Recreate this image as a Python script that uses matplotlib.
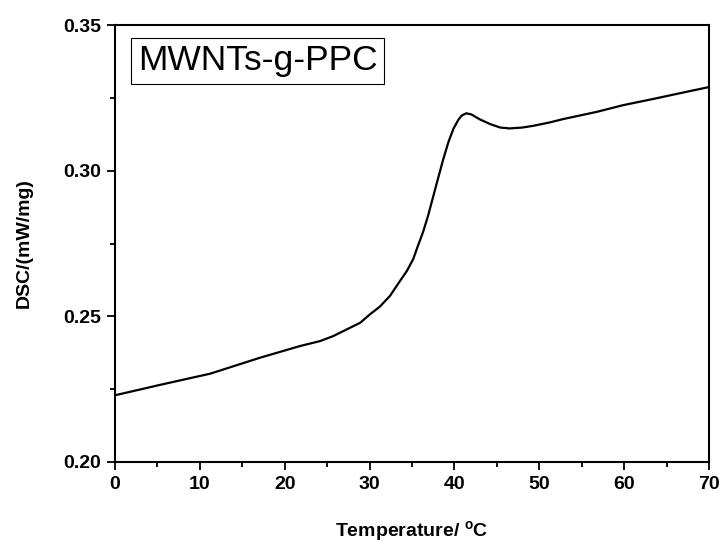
import matplotlib
matplotlib.use("Agg")
import matplotlib.pyplot as plt
from matplotlib.ticker import MultipleLocator

temperature = [0, 5.5, 11.2, 17.1, 21.8, 24.16, 25.7, 27.3, 28.9, 30.05, 31.2, 32.4,
               33.6, 34.4, 35.15, 35.7, 36.3, 36.9, 37.9, 38.7, 39.3, 39.9,
               40.45, 40.85, 41.4, 42.0, 43.0, 44.2, 45.4, 46.5, 48.0, 49.3, 51.3,
               52.8, 56.8, 59.9, 63.4, 66.6, 70.0]
dsc = [0.2229, 0.2266, 0.2303, 0.2358, 0.2398, 0.2415, 0.2432, 0.2455, 0.2478, 0.2507,
       0.2533, 0.2570, 0.2622, 0.2656, 0.2697, 0.2742, 0.2789, 0.2846, 0.2955,
       0.3041, 0.3099, 0.3145, 0.3174, 0.3189, 0.3197, 0.3193, 0.3176, 0.3160, 0.3148,
       0.3145, 0.3148, 0.3154, 0.3166, 0.3177, 0.3202, 0.3225, 0.3246, 0.3266, 0.3287]
xlim = (0, 70)
ylim = (0.20, 0.35)
xticks = [0, 10, 20, 30, 40, 50, 60, 70]
yticks = [0.20, 0.25, 0.30, 0.35]
sample_label = "MWNTs-g-PPC"

plt.rcParams['font.family'] = ['Liberation Sans', 'DejaVu Sans']
plt.rcParams['mathtext.fontset'] = 'custom'
plt.rcParams['mathtext.bf'] = 'Liberation Sans:bold'
plt.rcParams['mathtext.rm'] = 'Liberation Sans'

fig = plt.figure(figsize=(7.24, 5.42), dpi=100)
ax = fig.add_axes([115/724, 80/542, 594/724, 437/542])

ax.plot(temperature, dsc, color='black', lw=1.6, solid_joinstyle='round')

ax.set_xlim(*xlim)
ax.set_ylim(*ylim)
ax.set_xticks(xticks)
ax.set_yticks(yticks)
ax.set_yticklabels([f"{v:.2f}" for v in yticks])
ax.xaxis.set_minor_locator(MultipleLocator(5))
ax.yaxis.set_minor_locator(MultipleLocator(0.025))
ax.tick_params(which='major', direction='out', length=6, width=1.3, labelsize=14, pad=4)
ax.tick_params(which='minor', direction='out', length=3.5, width=1.3)
ax.tick_params(top=False, right=False, which='both')
for lbl in ax.get_xticklabels() + ax.get_yticklabels():
    lbl.set_fontweight('bold')
for sp in ax.spines.values():
    sp.set_linewidth(1.5)

ax.set_xlabel(r'Temperature/ $\mathbf{^{o}}$C', fontsize=14, fontweight='bold', labelpad=19)
ax.set_ylabel('DSC/(mW/mg)', fontsize=14, fontweight='bold', labelpad=22)

ax.text(0.24, 0.918, sample_label, transform=ax.transAxes, fontsize=25.5,
        ha='center', va='center',
        bbox=dict(boxstyle='square,pad=0.18', facecolor='white', edgecolor='black', lw=0.8))

fig.savefig('out.png', dpi=100)
